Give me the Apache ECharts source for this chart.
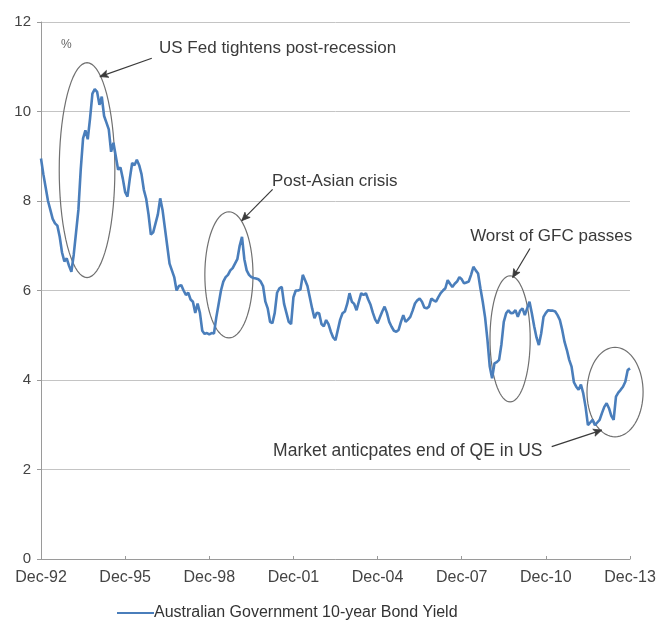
<!DOCTYPE html>
<html>
<head>
<meta charset="utf-8">
<script src="https://cdn.jsdelivr.net/npm/echarts@6/dist/echarts.min.js"></script>
<style>
html,body{margin:0;padding:0;background:#fff;}
#chart{width:659px;height:621px;}
</style>
</head>
<body>
<div id="chart"></div>
<script>
// Monthly Australian Government 10-year bond yield, Dec-1992 .. Dec-2013 (%)
const yield1992 = [8.95];
const yield1993 = [8.6, 8.3, 8.0, 7.8, 7.6, 7.5, 7.45, 7.2, 6.85, 6.65, 6.72, 6.55];
const yield1994 = [6.42, 6.8, 7.3, 7.8, 8.7, 9.4, 9.58, 9.38, 9.85, 10.4, 10.5, 10.44];
const yield1995 = [10.15, 10.33, 9.9, 9.75, 9.6, 9.1, 9.3, 9.0, 8.7, 8.75, 8.5, 8.2];
const yield1996 = [8.1, 8.5, 8.85, 8.8, 8.92, 8.8, 8.6, 8.25, 8.05, 7.7, 7.25, 7.3];
const yield1997 = [7.5, 7.7, 8.06, 7.8, 7.4, 7.0, 6.6, 6.45, 6.3, 6.0, 6.1, 6.12];
const yield1998 = [6.0, 5.9, 5.95, 5.8, 5.75, 5.5, 5.71, 5.5, 5.1, 5.03, 5.05, 5.02];
const yield1999 = [5.05, 5.04, 5.4, 5.7, 6.0, 6.2, 6.3, 6.35, 6.45, 6.5, 6.6, 6.7];
const yield2000 = [7.0, 7.2, 6.7, 6.45, 6.35, 6.3, 6.28, 6.27, 6.25, 6.2, 6.1, 5.75];
const yield2001 = [5.6, 5.3, 5.27, 5.5, 5.95, 6.05, 6.08, 5.7, 5.5, 5.3, 5.25, 5.85];
const yield2002 = [6.0, 6.0, 6.02, 6.35, 6.23, 6.1, 5.85, 5.6, 5.38, 5.5, 5.49, 5.25];
const yield2003 = [5.2, 5.34, 5.25, 5.08, 4.95, 4.89, 5.12, 5.35, 5.49, 5.53, 5.7, 5.94];
const yield2004 = [5.75, 5.7, 5.56, 5.75, 5.94, 5.9, 5.94, 5.8, 5.68, 5.5, 5.35, 5.27];
const yield2005 = [5.4, 5.53, 5.64, 5.5, 5.3, 5.19, 5.1, 5.08, 5.12, 5.3, 5.45, 5.3];
const yield2006 = [5.35, 5.41, 5.55, 5.71, 5.78, 5.82, 5.75, 5.62, 5.6, 5.64, 5.82, 5.78];
const yield2007 = [5.75, 5.85, 5.94, 6.0, 6.05, 6.23, 6.15, 6.08, 6.15, 6.2, 6.3, 6.25];
const yield2008 = [6.16, 6.18, 6.2, 6.35, 6.53, 6.45, 6.38, 6.05, 5.75, 5.4, 4.9, 4.3];
const yield2009 = [4.04, 4.37, 4.4, 4.45, 4.8, 5.3, 5.49, 5.56, 5.49, 5.5, 5.56, 5.41];
const yield2010 = [5.55, 5.6, 5.45, 5.6, 5.75, 5.49, 5.2, 4.95, 4.78, 5.04, 5.41, 5.5];
const yield2011 = [5.56, 5.55, 5.55, 5.53, 5.45, 5.34, 5.12, 4.85, 4.67, 4.45, 4.3, 3.95];
const yield2012 = [3.85, 3.78, 3.9, 3.7, 3.4, 2.99, 3.05, 3.11, 2.99, 3.05, 3.11, 3.26];
const yield2013 = [3.4, 3.48, 3.37, 3.2, 3.11, 3.63, 3.72, 3.78, 3.85, 3.96, 4.22, 4.26];

const bondYield = [].concat(yield1992, yield1993, yield1994, yield1995, yield1996, yield1997,
  yield1998, yield1999, yield2000, yield2001, yield2002, yield2003, yield2004, yield2005,
  yield2006, yield2007, yield2008, yield2009, yield2010, yield2011, yield2012, yield2013);

const monthNames = ['Jan','Feb','Mar','Apr','May','Jun','Jul','Aug','Sep','Oct','Nov','Dec'];
const startYear = 1992, startMonth = 11; // Dec-92
const categories = bondYield.map(function (_, i) {
  const mi = startMonth + i;
  const yr = startYear + Math.floor(mi / 12);
  return monthNames[mi % 12] + '-' + String(yr % 100).padStart(2, '0');
});

const yTicks = [0, 2, 4, 6, 8, 10, 12];
const seriesName = 'Australian Government 10-year Bond Yield';

// Annotations in data space: [monthIndex, value]
const annotationTexts = [
  { text: 'US Fed tightens post-recession', at: [50.5, 11.42], size: 17 },
  { text: 'Post-Asian crisis', at: [98.8, 8.45], size: 17 },
  { text: 'Worst of GFC passes', at: [183.6, 7.2], size: 17 },
  { text: 'Market anticpates end of QE in US', at: [99.3, 2.41], size: 17.5 }
];
const annotationEllipses = [
  { c: [19.7, 8.69], r: [11.9, 2.40] },
  { c: [80.4, 6.35], r: [10.3, 1.41] },
  { c: [200.7, 4.92], r: [8.6, 1.41] },
  { c: [245.6, 3.73], r: [12.0, 1.0] }
];
const annotationArrows = [
  { from: [47.4, 11.19], to: [25.2, 10.78] },
  { from: [99.1, 8.26], to: [85.9, 7.56] },
  { from: [209.2, 6.94], to: [201.8, 6.29] },
  { from: [218.5, 2.51], to: [239.9, 2.88] }
];

const FONT = '"Liberation Sans", Arial, sans-serif';
const chart = echarts.init(document.getElementById('chart'), null, { renderer: 'canvas' });

chart.setOption({
  animation: false,
  backgroundColor: '#ffffff',
  grid: { left: 41, right: 29, top: 22, bottom: 62, containLabel: false },
  legend: {
    data: [{ name: seriesName, icon: 'rect' }],
    left: 112,
    top: 600,
    itemWidth: 37,
    itemHeight: 2,
    itemGap: 4,
    textStyle: { fontFamily: FONT, fontSize: 16, color: '#333333', padding: [0, 0, 0, -5] }
  },
  xAxis: {
    type: 'category',
    data: categories,
    boundaryGap: false,
    axisLine: { show: true, lineStyle: { color: '#9a9a9a', width: 1 } },
    axisTick: { show: true, inside: true, length: 3, interval: 35, lineStyle: { color: '#9a9a9a' } },
    axisLabel: { interval: 35, margin: 11, fontFamily: FONT, fontSize: 16, color: '#444444' },
    splitLine: { show: false }
  },
  yAxis: {
    type: 'value',
    min: yTicks[0],
    max: yTicks[yTicks.length - 1],
    interval: 2,
    axisLine: { show: true, lineStyle: { color: '#9a9a9a', width: 1 } },
    axisTick: { show: true, length: 4, lineStyle: { color: '#9a9a9a' } },
    axisLabel: { margin: 10, fontFamily: FONT, fontSize: 15, color: '#444444' },
    splitLine: { show: true, lineStyle: { color: '#c4c4c4', width: 1 } }
  },
  series: [{
    name: seriesName,
    type: 'line',
    data: bondYield,
    symbol: 'none',
    lineStyle: { color: '#4a7ebb', width: 2.6 },
    itemStyle: { color: '#4a7ebb' }
  }]
});

// Map data space -> pixels via the chart's own axes
const p0 = chart.convertToPixel({ gridIndex: 0 }, [0, 0]);
const p1 = chart.convertToPixel({ gridIndex: 0 }, [bondYield.length - 1, 12]);
function px(m, v) {
  return [p0[0] + (p1[0] - p0[0]) * m / (bondYield.length - 1), p0[1] + (p1[1] - p0[1]) * v / 12];
}
const sx = (p1[0] - p0[0]) / (bondYield.length - 1);
const sy = (p0[1] - p1[1]) / 12;

const graphics = [];
graphics.push({
  type: 'text',
  x: px(8.6, 11.5)[0], y: px(8.6, 11.5)[1],
  style: { text: '%', font: '12px ' + FONT, fill: '#666666', verticalAlign: 'middle' }
});
annotationTexts.forEach(function (a) {
  const p = px(a.at[0], a.at[1]);
  graphics.push({
    type: 'text', x: p[0], y: p[1],
    style: { text: a.text, font: a.size + 'px ' + FONT, fill: '#3a3a3a', verticalAlign: 'middle', textAlign: 'left' }
  });
});
annotationEllipses.forEach(function (e) {
  const c = px(e.c[0], e.c[1]);
  const rx = e.r[0] * sx, ry = e.r[1] * sy;
  const pts = [];
  for (let k = 0; k < 72; k++) {
    const t = k / 72 * Math.PI * 2;
    pts.push([c[0] + rx * Math.cos(t), c[1] + ry * Math.sin(t)]);
  }
  graphics.push({
    type: 'polygon', shape: { points: pts },
    style: { fill: null, stroke: '#707070', lineWidth: 1.2 }
  });
});
annotationArrows.forEach(function (a) {
  const f = px(a.from[0], a.from[1]);
  const t = px(a.to[0], a.to[1]);
  const ang = Math.atan2(t[1] - f[1], t[0] - f[0]);
  const L = 9, W = 0.42;
  graphics.push({
    type: 'line', shape: { x1: f[0], y1: f[1], x2: t[0], y2: t[1] },
    style: { stroke: '#3a3a3a', lineWidth: 1.2 }
  });
  graphics.push({
    type: 'polygon',
    shape: { points: [
      [t[0], t[1]],
      [t[0] - L * Math.cos(ang - W), t[1] - L * Math.sin(ang - W)],
      [t[0] - L * 0.7 * Math.cos(ang), t[1] - L * 0.7 * Math.sin(ang)],
      [t[0] - L * Math.cos(ang + W), t[1] - L * Math.sin(ang + W)]
    ] },
    style: { fill: '#3a3a3a', stroke: '#3a3a3a', lineWidth: 0.8 }
  });
});
chart.setOption({ graphic: graphics });
</script>
</body>
</html>
